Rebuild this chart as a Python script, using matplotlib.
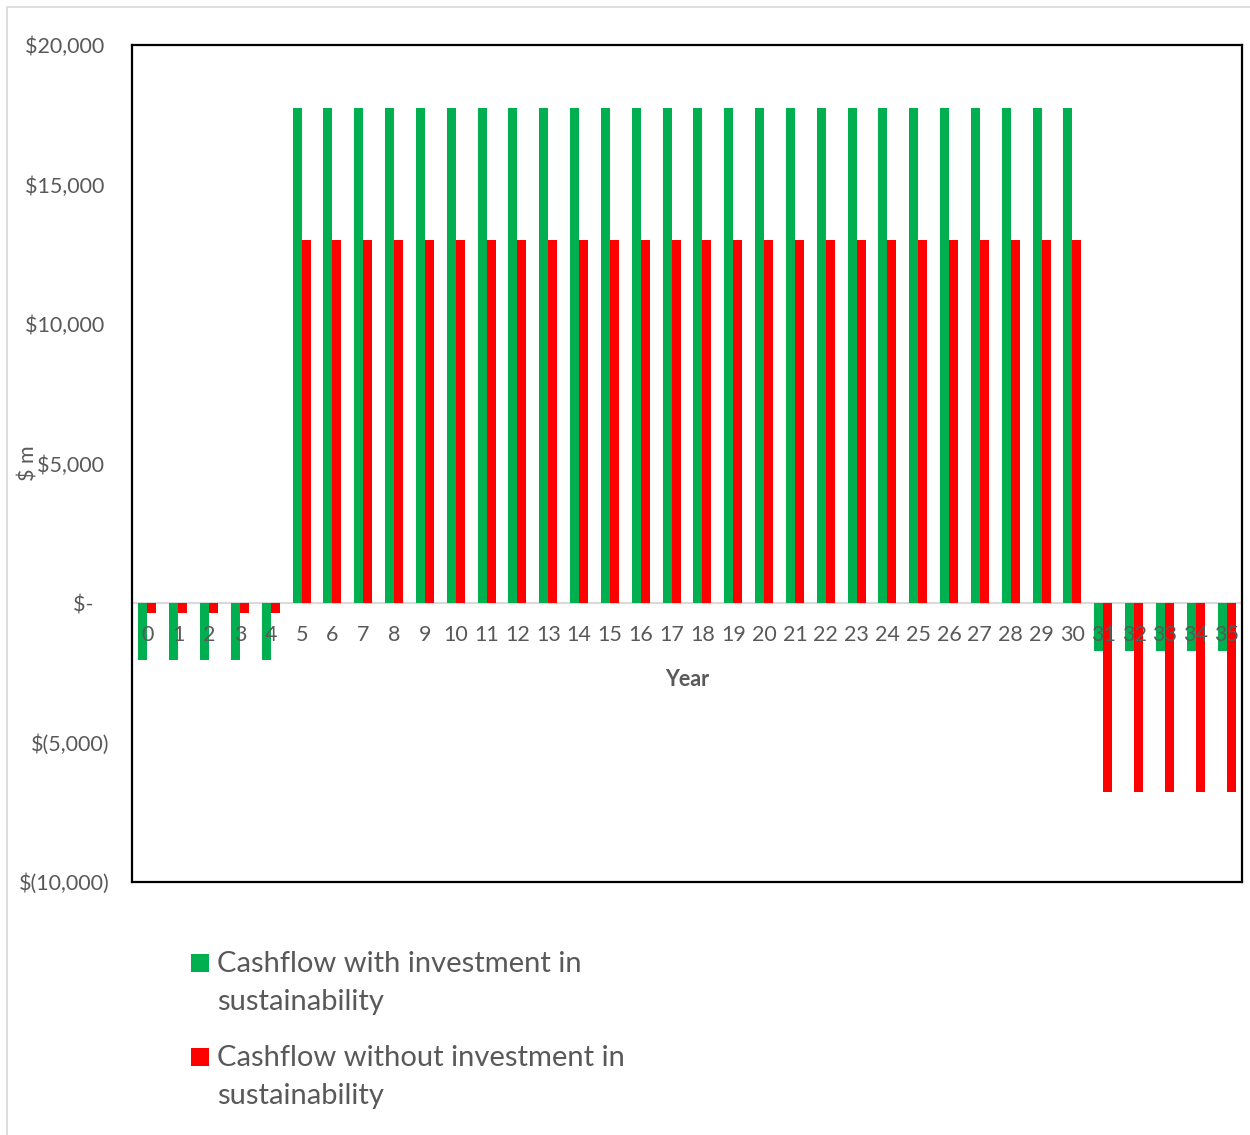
import numpy as np
import matplotlib
matplotlib.use("Agg")
import matplotlib.pyplot as plt
from matplotlib.patches import Rectangle

years = list(range(36))
with_invest = [-2050]*5 + [17750]*26 + [-1720]*5
without_invest = [-360]*5 + [13000]*26 + [-6770]*5
series_names = ["Cashflow with investment in\nsustainability",
                "Cashflow without investment in\nsustainability"]
colors = ["#00B050", "#FF0000"]
ytick_vals = [20000, 15000, 10000, 5000, 0, -5000, -10000]
ytick_labels = ["$20,000 ", "$15,000 ", "$10,000 ", "$5,000 ", "$-   ", "$(5,000)", "$(10,000)"]

FONT = ["Lato", "DejaVu Sans"]
plt.rcParams["font.family"] = FONT
GRAY = "#595959"

W, H = 1250, 1135
fig = plt.figure(figsize=(W/100, H/100), dpi=100)
ax = fig.add_axes([132/W, 1-882/H, (1242-132)/W, (882-45)/H])

x = np.arange(len(years))
w = 0.29
ax.bar(x - w/2, with_invest, width=w, color=colors[0], zorder=2)
ax.bar(x + w/2, without_invest, width=w, color=colors[1], zorder=2)

ax.set_xlim(-0.5, len(years)-0.5)
ax.set_ylim(-10000, 20000)
ax.axhline(0, color="#D9D9D9", lw=1.5, zorder=1)

ax.set_yticks(ytick_vals)
ax.set_yticklabels(ytick_labels, fontsize=15.5, color=GRAY)
ax.tick_params(axis="y", length=0, pad=16)
ax.set_xticks(x)
ax.set_xticklabels([])
ax.tick_params(axis="x", length=0)
for xi, yr in zip(x, years):
    ax.annotate(str(yr), xy=(xi, 0), xytext=(0, -32), textcoords="offset pixels",
                ha="center", va="center", fontsize=15.5, color=GRAY, zorder=3)

ax.text(0.5, 1-(679-45)/(882-45), "Year", transform=ax.transAxes, ha="center", va="center",
        fontsize=15.5, fontweight="bold", color=GRAY)

for s in ax.spines.values():
    s.set_color("black")
    s.set_linewidth(1.6)

fig.text(29/W, 1-463/H, "$ m", rotation=90, ha="center", va="center", fontsize=15.5, color=GRAY)

# chart-area border
fig.patches.append(Rectangle((7/W, -0.1), 1.2, 1-7/H+0.1, transform=fig.transFigure,
                             fill=False, edgecolor="#D9D9D9", lw=1.2))

# legend
leg_y = [963, 1057]
for name, c, yy in zip(series_names, colors, leg_y):
    fig.patches.append(Rectangle((191/W, 1-(yy+9)/H), 18/W, 18/H, transform=fig.transFigure,
                                 facecolor=c, edgecolor="none"))
    fig.text(217/W, 1-(yy-12)/H, name, ha="left", va="top", fontsize=21, color=GRAY,
             linespacing=1.58)

fig.savefig("out.png", dpi=100)
